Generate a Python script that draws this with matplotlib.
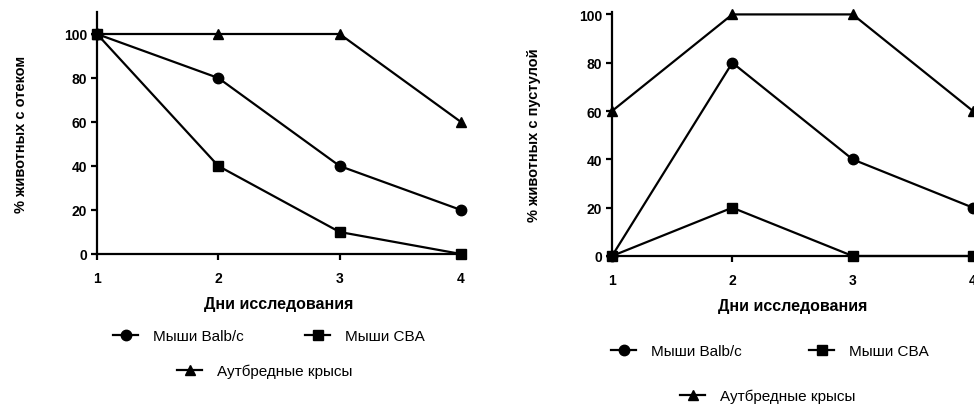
import matplotlib
matplotlib.use("Agg")
import matplotlib.pyplot as plt
from matplotlib.lines import Line2D

plt.rcParams['font.family'] = ['Liberation Sans', 'DejaVu Sans']

days = [1, 2, 3, 4]
series_names = ["Мыши Balb/c", "Мыши CBA", "Аутбредные крысы"]
markers = ["o", "s", "^"]

# % животных с отеком
edema_balb = [100, 80, 40, 20]
edema_cba = [100, 40, 10, 0]
edema_rats = [100, 100, 100, 60]

# % животных с пустулой
pustule_balb = [0, 80, 40, 20]
pustule_cba = [0, 20, 0, 0]
pustule_rats = [60, 100, 100, 60]

y_ticks = [0, 20, 40, 60, 80, 100]

W, H = 974, 406
fig = plt.figure(figsize=(W / 100, H / 100), dpi=100)


def px_axes(x0, x1, y_top, y_bot):
    return fig.add_axes([x0 / W, 1 - y_bot / H, (x1 - x0) / W, (y_bot - y_top) / H])


def style(ax, ylim, ylabel, ylab_x, xlab_y):
    for s in ("top", "right"):
        ax.spines[s].set_visible(False)
    for s in ("left", "bottom"):
        ax.spines[s].set_linewidth(1.6)
    ax.set_xlim(1, 4)
    ax.set_ylim(*ylim)
    ax.set_xticks(days)
    ax.set_yticks(y_ticks)
    ax.tick_params(axis="both", direction="out", length=4, width=1.6, labelsize=10)
    ax.tick_params(axis="x", pad=8)
    ax.tick_params(axis="y", pad=3)
    for lab in ax.get_xticklabels() + ax.get_yticklabels():
        lab.set_fontweight("bold")
    ax.set_xlabel("Дни исследования", fontsize=11.5, fontweight="bold")
    ax.xaxis.set_label_coords(0.5, xlab_y)
    ax.set_ylabel(ylabel, fontsize=10.5, fontweight="bold")
    ax.yaxis.set_label_coords(ylab_x, 0.5)


def draw(ax, data):
    for vals, m in zip(data, markers):
        ax.plot(days, vals, color="black", lw=1.6, marker=m, markersize=7.5,
                clip_on=False, zorder=3)


def add_entry(x_px, y_px, name, m):
    h = Line2D([], [], color="black", lw=1.6, marker=m, markersize=7.5)
    fig.legend([h], [name], loc="center left",
               bbox_to_anchor=(x_px / W, 1 - y_px / H), frameon=False,
               borderpad=0, borderaxespad=0, handlelength=1.65,
               handletextpad=1.0, prop={"size": 11})


ax1 = px_axes(97, 461, 13, 255)
draw(ax1, [edema_balb, edema_cba, edema_rats])
style(ax1, (0, 110), "% животных с отеком", -0.19, -0.175)

ax2 = px_axes(612, 973, 13, 257)
draw(ax2, [pustule_balb, pustule_cba, pustule_rats])
style(ax2, (0, 101), "% животных с пустулой", -0.198, -0.171)

add_entry(113, 337, series_names[0], markers[0])
add_entry(305, 337, series_names[1], markers[1])
add_entry(177, 372, series_names[2], markers[2])

add_entry(611, 352, series_names[0], markers[0])
add_entry(809, 352, series_names[1], markers[1])
add_entry(680, 397, series_names[2], markers[2])

fig.savefig("out.png", dpi=100)
